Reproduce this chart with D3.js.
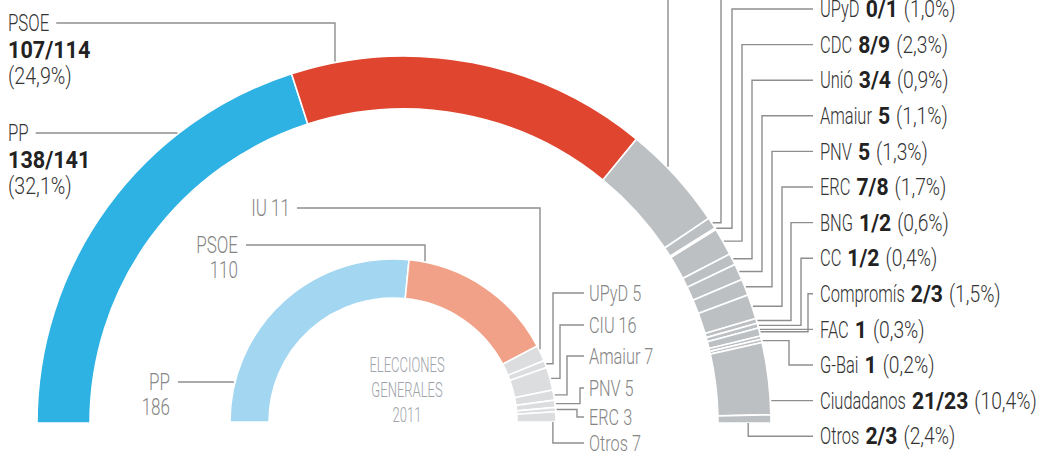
<!DOCTYPE html>
<html>
<head>
<meta charset="utf-8">
<script src="https://cdn.jsdelivr.net/npm/d3@7"></script>
<style>
body { margin: 0; background: #fff; }
svg { display: block; font-family: Roboto, "Liberation Sans", sans-serif; }
</style>
</head>
<body>
<svg class="hemiciclo" width="1043" height="456"></svg>
<script>
// Encuesta: anillo exterior
var partidos = ["PP", "PSOE", "Podemos", "IU", "UPyD", "CDC", "Unió", "Amaiur", "PNV", "ERC", "BNG", "CC", "Compromís", "FAC", "G-Bai", "Ciudadanos", "Otros"];
var escanos = ["138/141", "107/114", "", "", "0/1", "8/9", "3/4", "5", "5", "7/8", "1/2", "1/2", "2/3", "1", "1", "21/23", "2/3"];
var votos = ["32,1%", "24,9%", "", "", "1,0%", "2,3%", "0,9%", "1,1%", "1,3%", "1,7%", "0,6%", "0,4%", "1,5%", "0,3%", "0,2%", "10,4%", "2,4%"];
// tamaño de cada tramo del arco (punto medio de la horquilla)
var arco = [139.5, 110.5, 32.5, 3.5, 0.5, 8.5, 3.5, 5, 5, 7.5, 1.5, 1.5, 2.5, 1, 1, 22, 2.5];

// Elecciones generales 2011: anillo interior
var partidos2011 = ["PP", "PSOE", "IU", "UPyD", "CIU", "Amaiur", "PNV", "ERC", "Otros"];
var escanos2011 = [186, 110, 11, 5, 16, 7, 5, 3, 7];

var colores = { "PP": "#2eb1e3", "PSOE": "#e0462f" };
var colores2011 = { "PP": "#a2d6f1", "PSOE": "#f0a187" };

var svg = d3.select(".hemiciclo");

var fuera = { cx: 404, cy: 423, r0: 314, r1: 367 };
var dentro = { cx: 393, cy: 422, r0: 124, r1: 163 };

var pie = d3.pie()
	.sort(null)
	.value((d) => { return d.v; })
	.startAngle(-Math.PI / 2)
	.endAngle(Math.PI / 2);

function anillo(geo, datos, fill) {
	var g = svg.append("g").attr("transform", "translate(" + geo.cx + "," + geo.cy + ")");
	var arc = d3.arc().innerRadius(geo.r0).outerRadius(geo.r1);
	var arcs = pie(datos);
	g.selectAll("path")
		.data(arcs)
		.enter().append("path")
			.attr("d", arc)
			.attr("fill", (d) => { return fill(d.data.p); })
			.attr("stroke", "#fff")
			.attr("stroke-width", 1.6);
	return arcs;
}

var arcsFuera = anillo(fuera, partidos.map((p, i) => { return { p: p, v: arco[i] }; }),
	(p) => { return colores[p] || "#bdc0c3"; });
var arcsDentro = anillo(dentro, partidos2011.map((p, i) => { return { p: p, v: escanos2011[i] }; }),
	(p) => { return colores2011[p] || "#dcdddf"; });

// línea guía desde el texto (x0, L.y) hasta el anillo
function guia(geo, d, L, x0) {
	var r = geo.r1 + 1;
	if (L.tipo == "recta") {
		var dx = Math.sqrt(r * r - (L.y - geo.cy) * (L.y - geo.cy));
		return "M" + x0 + "," + L.y + "H" + (geo.cx + (x0 < geo.cx ? -dx : dx));
	}
	if (L.tipo == "caida") {
		var ya = geo.cy - Math.sqrt(r * r - (L.vx - geo.cx) * (L.vx - geo.cx));
		return "M" + x0 + "," + L.y + "H" + L.vx + "V" + ya;
	}
	if (L.tipo == "codo") {
		var a = (d.startAngle + d.endAngle) / 2;
		var px = geo.cx + r * Math.sin(a), py = geo.cy - r * Math.cos(a);
		return "M" + x0 + "," + L.y + "H" + L.vx + "V" + py + "H" + px;
	}
	// base: bajo el extremo derecho del anillo
	var xb = geo.cx + geo.r0 + L.f * (geo.r1 - geo.r0);
	return "M" + x0 + "," + L.y + "H" + xb + "V" + geo.cy;
}

// texto estrecho: cada pieza se comprime en horizontal (la letra original es condensada)
var estilos = {
	nombre: { s: 0.7, w: 300, c: "#333" },
	num: { s: 0.9, w: "bold", c: "#222" },
	pct: { s: 0.82, w: 300, c: "#333" },
	gris: { s: 0.74, w: 300, c: "#858585" }
};

function renglon(g, x, y, piezas, size, fin) {
	var nodos = piezas.map((pz) => {
		var e = estilos[pz[1]];
		var t = g.append("text")
			.attr("dy", "0.35em")
			.attr("font-size", size)
			.attr("font-weight", e.w)
			.attr("fill", e.c)
			.text(pz[0]);
		return { t: t, w: t.node().getComputedTextLength() * e.s, s: e.s };
	});
	var total = d3.sum(nodos, (n) => { return n.w; }) + 6 * (nodos.length - 1);
	var cx = fin ? x - total : x;
	nodos.forEach((n) => {
		n.t.attr("transform", "translate(" + cx + "," + y + ") scale(" + n.s + ",1)");
		cx += n.w + 6;
	});
	return fin ? x : x + total;
}

// ---- etiquetas del anillo exterior
var guiasFuera = [
	{ y: 133, tipo: "recta" },
	{ y: 23, tipo: "caida", vx: 335 },
	{ tipo: "caida", vx: 668 },
	{ tipo: "codo", vx: 721 },
	{ tipo: "codo", vx: 732 },
	{ tipo: "codo", vx: 742 },
	{ tipo: "codo", vx: 752 },
	{ tipo: "codo", vx: 762 },
	{ tipo: "codo", vx: 772 },
	{ tipo: "codo", vx: 782 },
	{ tipo: "codo", vx: 791 },
	{ tipo: "codo", vx: 801 },
	{ tipo: "codo", vx: 808 },
	{ tipo: "recta" },
	{ tipo: "codo", vx: 789 },
	{ tipo: "recta" },
	{ tipo: "base", f: 0.57 }
];
guiasFuera.forEach((L, i) => { if (i > 1) L.y = 9 + 35.6 * (i - 4); });

var lineas = svg.append("g")
	.attr("fill", "none")
	.attr("stroke", "#8e8e8e")
	.attr("stroke-width", 1.4);

var textos = svg.append("g");

partidos.forEach((p, i) => {
	var L = guiasFuera[i];
	if (i < 2) {
		var x1 = renglon(textos, 8, L.y, [[p, "nombre"]], 24);
		renglon(textos, 8, L.y + 27, [[escanos[i], "num"]], 24);
		renglon(textos, 8, L.y + 53, [["(" + votos[i] + ")", "pct"]], 24);
		lineas.append("path").attr("d", guia(fuera, arcsFuera[i], L, x1 + 7));
	} else {
		lineas.append("path").attr("d", guia(fuera, arcsFuera[i], L, 813));
		if (!escanos[i]) return;
		renglon(textos, 820, L.y, [[p, "nombre"], [escanos[i], "num"], ["(" + votos[i] + ")", "pct"]], 23.5);
	}
});

// ---- etiquetas del anillo interior
var guiasDentro = [
	{ x: 170, y: 382, tipo: "recta" },
	{ x: 238, y: 245, tipo: "caida", vx: 425 },
	{ x: 290, y: 208, tipo: "caida", vx: 540 },
	{ y: 293, tipo: "codo", vx: 553 },
	{ y: 325, tipo: "codo", vx: 560 },
	{ y: 356, tipo: "codo", vx: 567 },
	{ y: 388, tipo: "codo", vx: 580 },
	{ y: 417, tipo: "codo", vx: 577 },
	{ y: 443, tipo: "base", f: 0.92 }
];

partidos2011.forEach((p, i) => {
	var L = guiasDentro[i];
	if (i < 2) {
		renglon(textos, L.x, L.y, [[p, "gris"]], 23, true);
		renglon(textos, L.x, L.y + 25, [[String(escanos2011[i]), "gris"]], 23, true);
		lineas.append("path").attr("d", guia(dentro, arcsDentro[i], L, L.x + 8));
	} else if (i == 2) {
		renglon(textos, L.x, L.y, [[p + " " + escanos2011[i], "gris"]], 23, true);
		lineas.append("path").attr("d", guia(dentro, arcsDentro[i], L, L.x + 7));
	} else {
		renglon(textos, 589, L.y, [[p + " " + escanos2011[i], "gris"]], 22);
		lineas.append("path").attr("d", guia(dentro, arcsDentro[i], L, 584));
	}
});

// rótulo central
["ELECCIONES", "GENERALES", "2011"].forEach((r, i) => {
	svg.append("text")
		.attr("transform", "translate(407," + (365 + 25 * i) + ") scale(0.62,1)")
		.attr("dy", "0.35em")
		.attr("text-anchor", "middle")
		.attr("font-size", 21)
		.attr("font-weight", 300)
		.attr("fill", "#9ea3aa")
		.text(r);
});
</script>
</body>
</html>
